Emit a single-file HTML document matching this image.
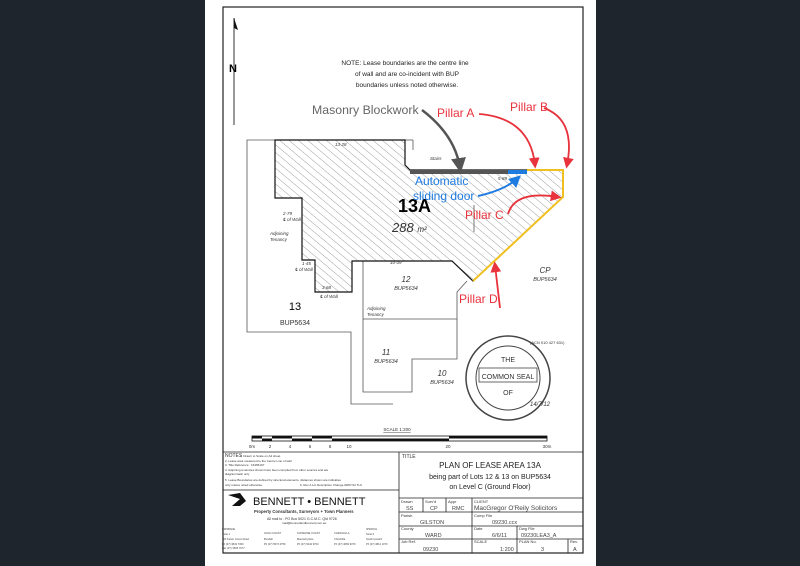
<!DOCTYPE html>
<html><head><meta charset="utf-8"><style>
html,body{margin:0;padding:0;background:#1e252c;}
svg{display:block}
text{font-family:"Liberation Sans",sans-serif}
</style></head><body>
<svg width="800" height="566" viewBox="0 0 800 566" xmlns="http://www.w3.org/2000/svg">
<defs>
<pattern id="h" width="6" height="6" patternUnits="userSpaceOnUse" patternTransform="rotate(-50)">
<line x1="0" y1="0" x2="0" y2="6" stroke="#777" stroke-width="0.7"/></pattern>
<marker id="ar" markerWidth="6" markerHeight="6" refX="4" refY="3" orient="auto"><path d="M0,0 L6,3 L0,6z" fill="#e8323c"/></marker>
<marker id="ag" markerWidth="6" markerHeight="6" refX="4" refY="3" orient="auto"><path d="M0,0 L6,3 L0,6z" fill="#555"/></marker>
<marker id="ab" markerWidth="6" markerHeight="6" refX="4" refY="3" orient="auto"><path d="M0,0 L6,3 L0,6z" fill="#1e7be0"/></marker>
</defs>
<rect x="205" y="0" width="391" height="566" fill="#fff"/>
<rect x="223" y="7" width="360" height="546" fill="none" stroke="#222" stroke-width="1.2"/>
<line x1="234" y1="18" x2="234" y2="125" stroke="#999" stroke-width="2"/>
<path d="M234,18 L238,30 L234,28z" fill="#111"/>
<text x="229" y="72" font-size="11" font-weight="bold" font-family="Liberation Serif">N</text>
<g font-size="6.5" fill="#222" text-anchor="middle">
<text x="405" y="65">NOTE: Lease boundaries are the centre line</text>
<text x="407" y="76">of wall and are co-incident with BUP</text>
<text x="407" y="87">boundaries unless noted otherwise.</text>
</g>
<g fill="none" stroke="#555" stroke-width="0.8">
<polyline points="275,140 247,140 247,332 351,332 351,404 393,404"/>
<polyline points="363,261 363,392 412,392 412,359 457,359 457,292 467,281"/>
<line x1="363" y1="319" x2="457" y2="319"/>
<line x1="405" y1="140" x2="413" y2="140"/><line x1="413" y1="140" x2="413" y2="150"/>
<line x1="474" y1="205" x2="474" y2="232"/>
</g>
<polygon points="275,140 405,140 405,165 410,170 563,170 563,197 473,281 452,261 352,261 352,292 315,292 315,260 302,260 302,198 275,198" fill="url(#h)" stroke="#111" stroke-width="1.2"/>
<polyline points="527,170 563,170 563,197 473,281" fill="none" stroke="#f0c020" stroke-width="2"/>
<line x1="410" y1="172" x2="508" y2="172" stroke="#555" stroke-width="4"/>
<line x1="508" y1="172" x2="527" y2="172" stroke="#1e7be0" stroke-width="4"/>
<g font-size="4.5" fill="#333" font-style="italic">
<text x="335" y="146">13·28</text><text x="430" y="160">Stairs</text>
<text x="283" y="215">2·79</text><text x="283" y="221">℄ of Wall</text>
<text x="270" y="235">Adjoining</text><text x="270" y="241">Tenancy</text>
<text x="302" y="265">1·45</text><text x="295" y="271">℄ of Wall</text>
<text x="322" y="289">3·68</text><text x="320" y="298">℄ of Wall</text>
<text x="390" y="264">10·09</text>
<text x="498" y="180">5·89</text>
<text x="367" y="310">Adjoining</text><text x="367" y="316">Tenancy</text>
</g>
<text x="398" y="212" font-size="18" font-weight="bold">13A</text>
<text x="392" y="232" font-size="13" font-style="italic" fill="#333">288 <tspan font-size="8">m²</tspan></text>
<g font-style="italic" fill="#333" text-anchor="middle">
<text x="406" y="282" font-size="8">12</text><text x="406" y="290" font-size="5.5">BUP5634</text>
<text x="386" y="355" font-size="8">11</text><text x="386" y="363" font-size="5.5">BUP5634</text>
<text x="442" y="376" font-size="8">10</text><text x="442" y="384" font-size="5.5">BUP5634</text>
<text x="545" y="273" font-size="8">CP</text><text x="545" y="281" font-size="5.5">BUP5634</text>
</g>
<text x="295" y="310" font-size="11" text-anchor="middle">13</text>
<text x="295" y="325" font-size="7" fill="#333" text-anchor="middle">BUP5634</text>
<text x="312" y="114" font-size="12.3" fill="#666">Masonry Blockwork</text>
<path d="M422,110 Q455,135 460,168" fill="none" stroke="#555" stroke-width="2.5" marker-end="url(#ag)"/>
<g fill="#e8323c" font-size="12">
<text x="437" y="117">Pillar A</text><text x="510" y="111">Pillar B</text>
<text x="465" y="219">Pillar C</text><text x="459" y="303">Pillar D</text>
</g>
<g fill="none" stroke="#e8323c" stroke-width="1.8">
<path d="M479,114 Q530,118 535,165" marker-end="url(#ar)"/>
<path d="M544,108 Q576,120 567,165" marker-end="url(#ar)"/>
<path d="M508,214 Q515,190 558,197" marker-end="url(#ar)"/>
<path d="M500,308 Q498,290 495,265" marker-end="url(#ar)"/>
</g>
<g fill="#1e7be0" font-size="12"><text x="415" y="185">Automatic</text><text x="413" y="200">sliding door</text></g>
<path d="M478,196 Q505,190 518,178" fill="none" stroke="#1e7be0" stroke-width="2" marker-end="url(#ab)"/>
<circle cx="508" cy="378" r="42" fill="none" stroke="#444" stroke-width="1.5"/>
<circle cx="508" cy="378" r="32" fill="none" stroke="#444" stroke-width="1"/>
<rect x="479" y="368" width="58" height="14" fill="#fff" stroke="#444" stroke-width="0.8"/>
<text x="508" y="379" font-size="7" text-anchor="middle" fill="#333">COMMON SEAL</text>
<text x="508" y="362" font-size="7" text-anchor="middle" fill="#333">THE</text>
<text x="508" y="395" font-size="7" text-anchor="middle" fill="#333">OF</text>
<text x="530" y="344" font-size="4" fill="#333">(ACN 010 427 631)</text>
<text x="530" y="406" font-size="6" fill="#333" font-style="italic">14/7/12</text>
<text x="397" y="431" font-size="4.5" text-anchor="middle" fill="#333" text-decoration="underline">SCALE 1:200</text>
<rect x="252" y="436" width="295" height="5" fill="#fff" stroke="#111" stroke-width="0.8"/>
<g fill="#111">
<rect x="252" y="436" width="10" height="2.5"/><rect x="262" y="438.5" width="10" height="2.5"/>
<rect x="272" y="436" width="20" height="2.5"/><rect x="292" y="438.5" width="20" height="2.5"/>
<rect x="312" y="436" width="20" height="2.5"/><rect x="332" y="438.5" width="117" height="2.5"/>
<rect x="449" y="436" width="98" height="2.5"/>
</g>
<g font-size="4.5" fill="#333" text-anchor="middle">
<text x="252" y="448">0m</text><text x="270" y="448">2</text><text x="290" y="448">4</text><text x="310" y="448">6</text><text x="330" y="448">8</text><text x="349" y="448">10</text><text x="448" y="448">20</text><text x="547" y="448">30m</text>
</g>
<g fill="none" stroke="#222" stroke-width="0.8">
<line x1="223" y1="452" x2="583" y2="452"/>
<line x1="399" y1="452" x2="399" y2="553"/>
<line x1="223" y1="490" x2="399" y2="490"/>
<line x1="399" y1="498" x2="583" y2="498"/>
<line x1="399" y1="512" x2="583" y2="512"/>
<line x1="399" y1="526" x2="583" y2="526"/>
<line x1="399" y1="539" x2="583" y2="539"/>
<line x1="423" y1="498" x2="423" y2="512"/><line x1="446" y1="498" x2="446" y2="512"/>
<line x1="472" y1="498" x2="472" y2="553"/>
<line x1="517" y1="526" x2="517" y2="553"/><line x1="568" y1="539" x2="568" y2="553"/>
</g>
<g font-size="3" fill="#333">
<text x="225" y="457" font-size="5">NOTES</text><text x="240" y="457">1. Drawn to Scale on A4 sheet</text>
<text x="225" y="462">2. Lease area measured to the Centre Line of wall</text>
<text x="225" y="466">3. Title Reference : 16465197</text>
<text x="225" y="471">4. Adjoining tenancies shown have been compiled from other sources and are</text>
<text x="225" y="475">diagrammatic only</text>
<text x="225" y="481">5. Lease Boundaries are defined by structural elements, distances shown are indicative</text>
<text x="225" y="486">only unless noted otherwise.</text><text x="300" y="486">6. Rev A Lot Description Change 09/07/12 TLK</text>
</g>
<path d="M228,495 L240,493 L246,501 L240,506 L232,506 L240,499z" fill="#111"/>
<text x="253" y="505" font-size="11" fill="#111">BENNETT • BENNETT</text>
<text x="254" y="513" font-size="4.2" font-weight="bold" fill="#333">Property Consultants, Surveyors + Town Planners</text>
<text x="267" y="520" font-size="3.5" fill="#333">All mail to : PO Box 5021 G.C.M.C. Qld 9726</text>
<text x="282" y="524" font-size="3" fill="#333">mail@bennettandbennett.com.au</text>
<g font-size="2.6" fill="#444">
<text x="222" y="530">BRISBANE</text><text x="222" y="535">Suite 1</text><text x="222" y="540">103 Kelvin Grove Road</text><text x="222" y="545">Ph (07) 3843 7300</text><text x="222" y="549">Fax (07) 3606 7077</text>
<text x="264" y="534">GOLD COAST</text><text x="264" y="540">Bundall</text><text x="264" y="545">Ph (07) 5574 0750</text>
<text x="297" y="534">SUNSHINE COAST</text><text x="297" y="540">Maroochydore</text><text x="297" y="545">Ph (07) 5443 9700</text>
<text x="334" y="534">CHINCHILLA</text><text x="334" y="540">Chinchilla</text><text x="334" y="545">Ph (07) 4669 9370</text>
<text x="366" y="530">IPSWICH</text><text x="366" y="535">Suite 6</text><text x="366" y="540">South Ipswich</text><text x="366" y="545">Ph (07) 3812 1070</text>
</g>
<text x="402" y="458" font-size="5" fill="#333">TITLE</text>
<g text-anchor="middle" fill="#222">
<text x="490" y="468" font-size="8">PLAN OF LEASE AREA 13A</text>
<text x="490" y="479" font-size="7">being part of Lots 12 &amp; 13 on BUP5634</text>
<text x="490" y="489" font-size="7">on Level C (Ground Floor)</text>
</g>
<g font-size="4" fill="#333">
<text x="401" y="503">Drawn</text><text x="425" y="503">Surv'd</text><text x="448" y="503">Appr</text><text x="474" y="503">CLIENT</text>
<text x="401" y="517">Parish</text><text x="474" y="517">Comp File</text>
<text x="401" y="530">County</text><text x="474" y="530">Date</text><text x="519" y="530">Dwg File</text>
<text x="401" y="543">Job Ref.</text><text x="474" y="543">SCALE</text><text x="519" y="543">PLAN No.</text><text x="570" y="543">Rev.</text>
</g>
<g font-size="5.5" fill="#444" font-family="Liberation Mono">
<text x="406" y="510">SS</text><text x="430" y="510">CP</text><text x="452" y="510">RMC</text>
<text x="474" y="510" font-family="Liberation Sans" font-size="6.5">MacGregor O'Reily Solicitors</text>
<text x="420" y="524">GILSTON</text><text x="492" y="524">09230.ccx</text>
<text x="425" y="537">WARD</text><text x="492" y="537">6/6/11</text><text x="521" y="537">09230LEA3_A</text>
<text x="423" y="551">09230</text><text x="500" y="551">1:200</text><text x="541" y="551">3</text><text x="573" y="551">A</text>
</g>
</svg>
</body></html>
